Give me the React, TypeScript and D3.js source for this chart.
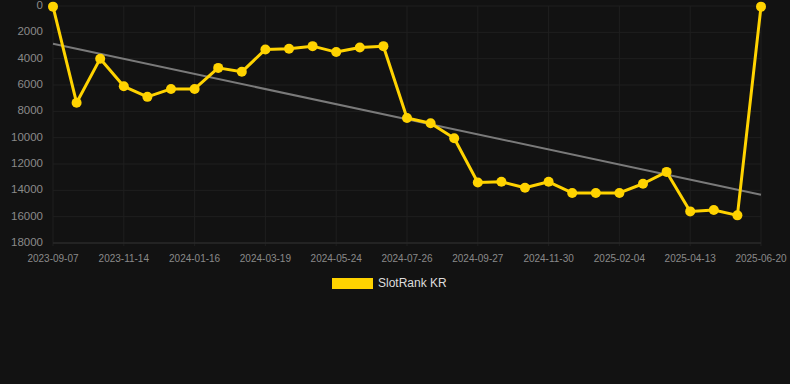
import React from "react";
import * as d3 from "d3";

const dates = [
  "2023-09-07", "2023-09-30", "2023-10-22", "2023-11-14", "2023-12-05", "2023-12-26",
  "2024-01-16", "2024-02-06", "2024-02-27", "2024-03-19", "2024-04-10", "2024-05-02",
  "2024-05-24", "2024-06-14", "2024-07-05", "2024-07-26", "2024-08-16", "2024-09-06",
  "2024-09-27", "2024-10-19", "2024-11-09", "2024-11-30", "2024-12-22", "2025-01-13",
  "2025-02-04", "2025-02-27", "2025-03-21", "2025-04-13", "2025-05-05", "2025-05-28",
  "2025-06-20",
];
const ranks = [
  50, 7350, 4000, 6100, 6900, 6300, 6300, 4700, 5000, 3300, 3250, 3050, 3500, 3150, 3050,
  8500, 8900, 10050, 13400, 13350, 13800, 13350, 14200, 14200, 14200, 13500, 12600, 15600,
  15500, 15900, 50,
];
// trend line values at first and last category
const trendValues = [2870, 14330];
const yTicks = [0, 2000, 4000, 6000, 8000, 10000, 12000, 14000, 16000, 18000];
const xTickLabels = [
  "2023-09-07", "2023-11-14", "2024-01-16", "2024-03-19", "2024-05-24", "2024-07-26",
  "2024-09-27", "2024-11-30", "2025-02-04", "2025-04-13", "2025-06-20",
];
const seriesName = "SlotRank KR";

const W = 790;
const H = 384;
const left = 53;
const right = 761;
const top = 6;
const bottom = 243;

export default function App() {
  const x = d3.scalePoint<string>().domain(dates).range([left, right]);
  const y = d3.scaleLinear().domain([0, 18000]).range([top, bottom]);
  const n = ranks.length;

  const line = d3
    .line<number>()
    .x((_, i) => x(dates[i]) as number)
    .y((d) => y(d));

  const grid = "#1f1f1f";
  const font = "'Liberation Sans', Arial, sans-serif";

  return (
    <div style={{ position: "absolute", left: 0, top: 0, width: W, height: H, background: "#121212" }}>
      <svg width={W} height={H} style={{ display: "block" }}>
        <rect x={0} y={0} width={W} height={H} fill="#121212" />
        {yTicks.map((t) => (
          <line key={"gy" + t} x1={left} x2={right} y1={y(t)} y2={y(t)} stroke={grid} strokeWidth={1} />
        ))}
        {xTickLabels.map((d) => (
          <line
            key={"gx" + d}
            x1={x(d) as number}
            x2={x(d) as number}
            y1={top}
            y2={bottom + 3}
            stroke={grid}
            strokeWidth={1}
          />
        ))}
        <line x1={left} x2={right} y1={bottom} y2={bottom} stroke="#2e2e2e" strokeWidth={1} />
        {yTicks.map((t) => (
          <text
            key={"ty" + t}
            x={43}
            y={y(t)}
            textAnchor="end"
            dominantBaseline="middle"
            fontFamily={font}
            fontSize={11.5}
            fill="#8a8a8a"
          >
            {t}
          </text>
        ))}
        {xTickLabels.map((d) => (
          <text
            key={"tx" + d}
            x={x(d) as number}
            y={259}
            textAnchor="middle"
            dominantBaseline="middle"
            fontFamily={font}
            fontSize={10}
            fill="#8a8a8a"
          >
            {d}
          </text>
        ))}
        <line
          x1={x(dates[0]) as number}
          x2={x(dates[n - 1]) as number}
          y1={y(trendValues[0])}
          y2={y(trendValues[1])}
          stroke="#7a7a7a"
          strokeWidth={2}
        />
        <path d={line(ranks) || ""} fill="none" stroke="#FFD300" strokeWidth={3} strokeLinejoin="round" />
        {ranks.map((v, i) => (
          <circle key={"p" + i} cx={x(dates[i]) as number} cy={y(v)} r={5} fill="#FFD300" />
        ))}
        <rect x={332} y={278} width={41} height={11} fill="#FFD300" />
        <text
          x={378}
          y={284}
          dominantBaseline="middle"
          fontFamily={font}
          fontSize={12}
          fill="#dddddd"
        >
          {seriesName}
        </text>
      </svg>
    </div>
  );
}
